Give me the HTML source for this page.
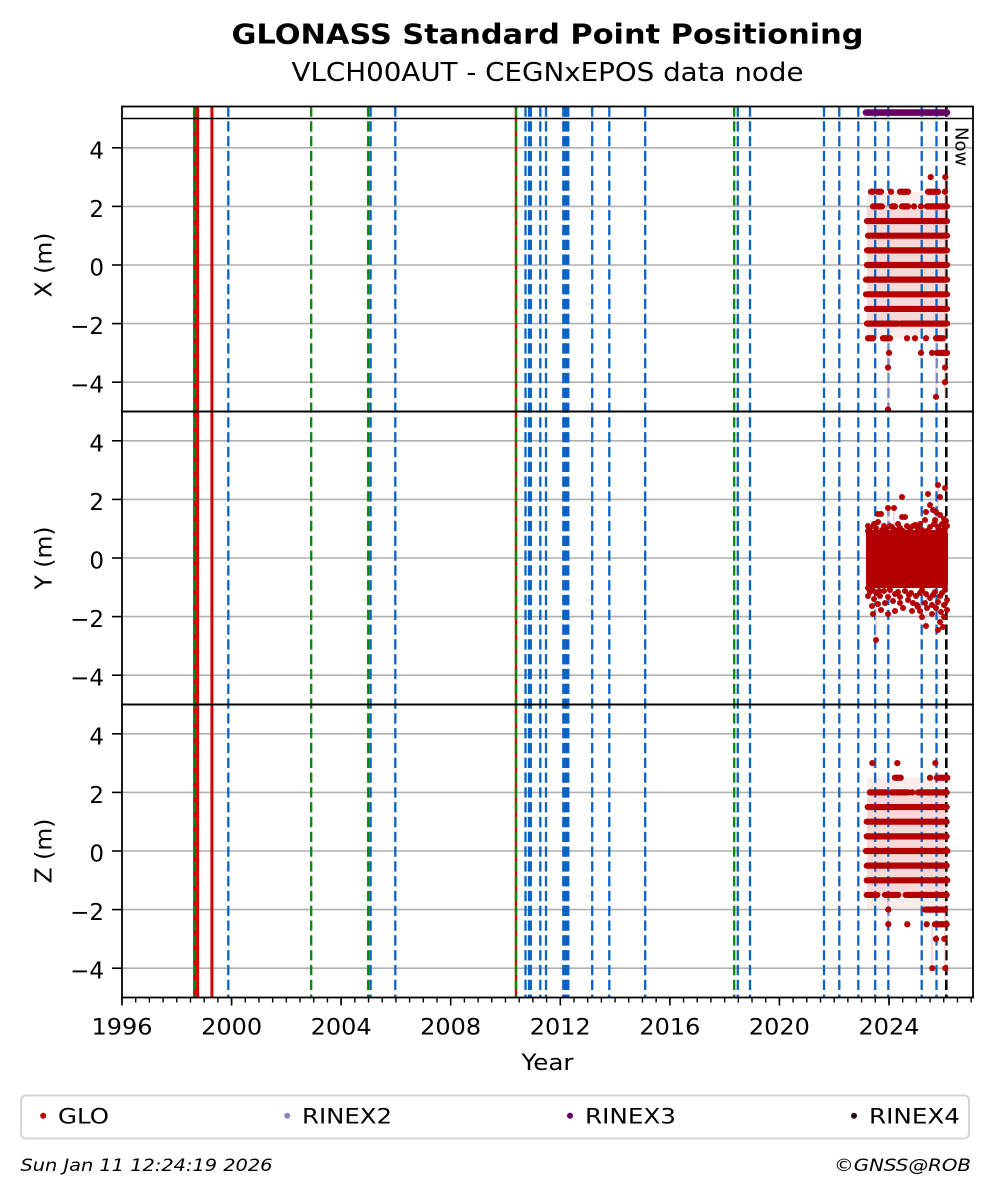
<!DOCTYPE html>
<html>
<head>
<meta charset="utf-8">
<style>
html,body{margin:0;padding:0;background:#fff;}
svg{display:block;}
</style>
</head>
<body>
<svg width="992" height="1194" viewBox="0 0 992 1194" xmlns="http://www.w3.org/2000/svg" font-family="'DejaVu Sans','Liberation Sans',sans-serif">
<rect x="0" y="0" width="992" height="1194" fill="#fff"/>

<!-- Titles -->
<text x="547.5" y="43.3" font-size="27.5" font-weight="bold" text-anchor="middle" textLength="632" lengthAdjust="spacingAndGlyphs">GLONASS Standard Point Positioning</text>
<text x="547.5" y="81" font-size="26" text-anchor="middle" textLength="512" lengthAdjust="spacingAndGlyphs">VLCH00AUT - CEGNxEPOS data node</text>

<!-- pink fills (connecting lines) -->
<rect x="867" y="191.75" width="80" height="146.5" fill="#fbecec"/>
<rect x="867" y="206.4" width="80" height="117.2" fill="#f5d9d9"/>
<rect x="867" y="777.75" width="80" height="132" fill="#fbecec"/>
<rect x="867" y="792.4" width="80" height="102.5" fill="#f5d9d9"/>

<!-- grid -->
<g stroke="#b0b0b0" stroke-width="1.6">
<line x1="122" x2="973" y1="147.8" y2="147.8"/>
<line x1="122" x2="973" y1="206.4" y2="206.4"/>
<line x1="122" x2="973" y1="265" y2="265"/>
<line x1="122" x2="973" y1="323.6" y2="323.6"/>
<line x1="122" x2="973" y1="382.2" y2="382.2"/>
<line x1="122" x2="973" y1="440.8" y2="440.8"/>
<line x1="122" x2="973" y1="499.4" y2="499.4"/>
<line x1="122" x2="973" y1="558" y2="558"/>
<line x1="122" x2="973" y1="616.6" y2="616.6"/>
<line x1="122" x2="973" y1="675.2" y2="675.2"/>
<line x1="122" x2="973" y1="733.8" y2="733.8"/>
<line x1="122" x2="973" y1="792.4" y2="792.4"/>
<line x1="122" x2="973" y1="851" y2="851"/>
<line x1="122" x2="973" y1="909.6" y2="909.6"/>
<line x1="122" x2="973" y1="968.2" y2="968.2"/>
</g>

<!-- red solid event lines -->
<g stroke="#d50000" stroke-width="3">
<line x1="194.6" x2="194.6" y1="106.5" y2="997.5"/>
<line x1="197.6" x2="197.6" y1="106.5" y2="997.5"/>
<line x1="211.9" x2="211.9" y1="106.5" y2="997.5"/>
<line x1="516" x2="516" y1="106.5" y2="997.5" stroke-width="2.4"/>
</g>

<!-- green dashed -->
<g stroke="#0a870a" stroke-width="2.3" stroke-dasharray="10.3 4.5">
<line x1="194.5" x2="194.5" y1="106.5" y2="997.5"/>
<line x1="311.2" x2="311.2" y1="106.5" y2="997.5"/>
<line x1="368.2" x2="368.2" y1="106.5" y2="997.5"/>
<line x1="516" x2="516" y1="106.5" y2="997.5"/>
<line x1="734.2" x2="734.2" y1="106.5" y2="997.5"/>
</g>

<!-- blue dashed -->
<g stroke="#0b63c5" stroke-width="2.3" stroke-dasharray="10.3 4.5">
<line x1="228.3" x2="228.3" y1="106.5" y2="997.5"/>
<line x1="370.6" x2="370.6" y1="106.5" y2="997.5"/>
<line x1="395.3" x2="395.3" y1="106.5" y2="997.5"/>
<line x1="525.5" x2="525.5" y1="106.5" y2="997.5"/>
<line x1="529" x2="529" y1="106.5" y2="997.5"/>
<line x1="530.8" x2="530.8" y1="106.5" y2="997.5"/>
<line x1="540.3" x2="540.3" y1="106.5" y2="997.5"/>
<line x1="546" x2="546" y1="106.5" y2="997.5"/>
<line x1="563.3" x2="563.3" y1="106.5" y2="997.5"/>
<line x1="565" x2="565" y1="106.5" y2="997.5"/>
<line x1="566.7" x2="566.7" y1="106.5" y2="997.5"/>
<line x1="568.3" x2="568.3" y1="106.5" y2="997.5"/>
<line x1="592.2" x2="592.2" y1="106.5" y2="997.5"/>
<line x1="609.3" x2="609.3" y1="106.5" y2="997.5"/>
<line x1="645.2" x2="645.2" y1="106.5" y2="997.5"/>
<line x1="737.8" x2="737.8" y1="106.5" y2="997.5"/>
<line x1="750" x2="750" y1="106.5" y2="997.5"/>
<line x1="824" x2="824" y1="106.5" y2="997.5"/>
<line x1="839.3" x2="839.3" y1="106.5" y2="997.5"/>
<line x1="858.3" x2="858.3" y1="106.5" y2="997.5"/>
<line x1="875.2" x2="875.2" y1="106.5" y2="997.5"/>
<line x1="888.3" x2="888.3" y1="106.5" y2="997.5"/>
<line x1="921.7" x2="921.7" y1="106.5" y2="997.5"/>
<line x1="936.5" x2="936.5" y1="106.5" y2="997.5"/>
</g>

<!-- Now line -->
<line x1="946.3" x2="946.3" y1="106.5" y2="997.5" stroke="#000" stroke-width="2.6" stroke-dasharray="10.3 4.5"/>

<!-- RINEX3 bar -->
<line x1="866" x2="947" y1="112.6" y2="112.6" stroke="#660066" stroke-width="6.6" stroke-linecap="round"/>

<!-- thin connecting lines for outliers -->
<g stroke="#eab5b5" stroke-width="1">
<line x1="945" x2="945" y1="177" y2="400"/>
<line x1="936" x2="936" y1="338" y2="397"/>
<line x1="888" x2="888" y1="338" y2="410"/>
<line x1="945" x2="945" y1="909" y2="968"/>
<line x1="932" x2="932" y1="924" y2="968"/>
<line x1="888" x2="888" y1="895" y2="924"/>
<line x1="888" x2="888" y1="508" y2="532"/>
<line x1="894" x2="894" y1="508" y2="532"/>
<line x1="876" x2="876" y1="587" y2="640"/>
<line x1="926" x2="926" y1="587" y2="626"/>
<line x1="938" x2="938" y1="485" y2="532"/>
</g>

<!-- X data -->
<path fill="none" stroke="#b40000" stroke-width="6.2" stroke-linecap="round" d="
M930.7 177.1h.01 M945.3 177.1h.01
M871 191.75H873 M878 191.75H881 M891 191.75h.01 M900 191.75H908 M928 191.75H938 M945 191.75h.01
M873 206.4H882 M892 206.4H895 M902 206.4H908 M914 206.4h.01 M921 206.4h.01 M927 206.4H947
M867 221.05H947 M868 235.7H947 M867 250.35H947 M867 265H947 M866 279.65H947 M866 294.3H947 M867 308.95H947
M867 323.6H898 M901 323.6H947
M868 338.25H873 M883 338.25H890 M907 338.25h.01 M915 338.25h.01 M926 338.25h.01 M936 338.25H943
M889 352.9h.01 M921 352.9h.01 M932 352.9h.01 M937 352.9H947
M888 367.55h.01 M945 367.55h.01 M945 382.2h.01 M936 396.85h.01 M888 409.5h.01"/>

<!-- Y data -->
<rect x="866" y="530" width="82" height="58" rx="4" fill="#b40000"/>
<path fill="none" stroke="#b40000" stroke-width="6" stroke-linecap="round" d="
M938 485h.01 M945 488h.01 M928 494h.01 M940 497h.01 M902 497h.01 M888 508h.01 M894 508h.01 M878 514h.01 M881 514h.01 M902 517h.01 M905 517h.01
M930 505h.01 M933 510h.01 M936 512h.01 M926 512h.01 M940 515h.01 M944 519h.01 M946 521h.01 M935 520h.01 M925 520h.01 M920 524h.01 M913 526h.01
M907 526h.01 M898 524h.01 M890 526h.01 M884 526h.01 M878 522h.01 M874 524h.01 M870 528h.01 M882 530h.01 M895 530h.01 M910 529h.01 M918 529h.01
M930 527h.01 M938 527h.01 M945 528h.01 M868 531h.01 M903 531h.01 M927 531h.01 M886 529h.01 M922 530h.01 M940 530h.01
M868 526h.01 M876 528h.01 M892 527h.01 M900 528h.01 M915 525h.01 M934 524h.01 M942 524h.01 M947 526h.01
M868 588h.01 M872 590h.01 M876 593h.01 M880 596h.01 M874 599h.01 M884 591h.01 M890 590h.01 M895 594h.01 M888 597h.01 M900 597h.01 M905 591h.01
M911 593h.01 M916 596h.01 M922 590h.01 M926 594h.01 M930 598h.01 M935 592h.01 M940 596h.01 M945 590h.01 M947 600h.01 M944 605h.01 M938 602h.01
M932 605h.01 M925 603h.01 M918 607h.01 M913 603h.01 M908 600h.01 M900 603h.01 M893 601h.01 M885 603h.01 M878 604h.01 M872 606h.01 M912 611h.01
M917 605h.01 M920 611h.01 M932 614h.01 M873 614h.01 M888 614h.01 M895 611h.01 M922 617h.01 M926 626h.01 M938 630h.01 M944 617h.01 M876 640h.01
M940 622h.01 M943 627h.01 M941 612h.01 M936 608h.01 M947 610h.01 M881 610h.01 M868 596h.01 M927 608h.01 M903 608h.01
M870 592h.01 M879 591h.01 M898 592h.01 M909 595h.01 M920 593h.01 M933 595h.01 M942 593h.01"/>

<!-- Z data -->
<path fill="none" stroke="#b40000" stroke-width="6.2" stroke-linecap="round" d="
M872.3 763.1h.01 M897.3 763.1h.01 M935.3 763.1h.01
M895 777.75H900.7 M930 777.75h.01 M936.7 777.75H947.3
M870 792.4H886 M891.7 792.4H908.3 M912.3 792.4h.01 M918 792.4H946.7
M867.7 807.05H946.7 M866.7 821.7H946.7 M866.7 836.35H946.7 M866 851H947.3 M866.7 865.65H946.7 M866.7 880.3H947.3
M866.7 894.95H877.3 M885 894.95H898.3 M905.7 894.95H946.7
M888.3 909.6h.01 M925 909.6H945
M888.3 924.25h.01 M907.3 924.25h.01 M926.7 924.25h.01 M935 924.25H946.7
M936 938.9h.01 M944.3 938.9h.01
M932.3 968.2h.01 M945.3 968.2h.01"/>

<!-- Now label -->
<text x="955.5" y="127" font-size="18" transform="rotate(90 955.5 127)">Now</text>

<!-- spines -->
<g fill="none" stroke="#000" stroke-width="1.8">
<rect x="122" y="106.5" width="851" height="305"/>
<rect x="122" y="411.5" width="851" height="293"/>
<rect x="122" y="704.5" width="851" height="293"/>
<line x1="122" x2="973" y1="118.5" y2="118.5" stroke-width="1.6"/>
</g>

<!-- y ticks -->
<g stroke="#000" stroke-width="1.6">
<line x1="112" x2="122" y1="147.8" y2="147.8"/>
<line x1="112" x2="122" y1="206.4" y2="206.4"/>
<line x1="112" x2="122" y1="265" y2="265"/>
<line x1="112" x2="122" y1="323.6" y2="323.6"/>
<line x1="112" x2="122" y1="382.2" y2="382.2"/>
<line x1="112" x2="122" y1="440.8" y2="440.8"/>
<line x1="112" x2="122" y1="499.4" y2="499.4"/>
<line x1="112" x2="122" y1="558" y2="558"/>
<line x1="112" x2="122" y1="616.6" y2="616.6"/>
<line x1="112" x2="122" y1="675.2" y2="675.2"/>
<line x1="112" x2="122" y1="733.8" y2="733.8"/>
<line x1="112" x2="122" y1="792.4" y2="792.4"/>
<line x1="112" x2="122" y1="851" y2="851"/>
<line x1="112" x2="122" y1="909.6" y2="909.6"/>
<line x1="112" x2="122" y1="968.2" y2="968.2"/>
</g>

<!-- x ticks -->
<line x1="121.3" y1="1000" x2="974" y2="1000" stroke="#000" stroke-width="5" stroke-dasharray="1.4 12.296"/>
<g stroke="#000" stroke-width="1.6">
<line x1="122" x2="122" y1="997.5" y2="1005.5"/>
<line x1="231.6" x2="231.6" y1="997.5" y2="1005.5"/>
<line x1="341.1" x2="341.1" y1="997.5" y2="1005.5"/>
<line x1="450.7" x2="450.7" y1="997.5" y2="1005.5"/>
<line x1="560.3" x2="560.3" y1="997.5" y2="1005.5"/>
<line x1="669.9" x2="669.9" y1="997.5" y2="1005.5"/>
<line x1="779.4" x2="779.4" y1="997.5" y2="1005.5"/>
<line x1="889" x2="889" y1="997.5" y2="1005.5"/>
</g>

<!-- y tick labels -->
<g font-size="23" text-anchor="end" fill="#000">
<text x="104" y="158.3">4</text>
<text x="104" y="216.9">2</text>
<text x="104" y="275.5">0</text>
<text x="104" y="334.1">−2</text>
<text x="104" y="392.7">−4</text>
<text x="104" y="451.3">4</text>
<text x="104" y="509.9">2</text>
<text x="104" y="568.5">0</text>
<text x="104" y="627.1">−2</text>
<text x="104" y="685.7">−4</text>
<text x="104" y="744.3">4</text>
<text x="104" y="802.9">2</text>
<text x="104" y="861.5">0</text>
<text x="104" y="920.1">−2</text>
<text x="104" y="978.7">−4</text>
</g>

<!-- x tick labels -->
<g font-size="22" text-anchor="middle" fill="#000">
<text x="122" y="1034.5" textLength="61" lengthAdjust="spacingAndGlyphs">1996</text>
<text x="231.6" y="1034.5" textLength="61" lengthAdjust="spacingAndGlyphs">2000</text>
<text x="341.1" y="1034.5" textLength="61" lengthAdjust="spacingAndGlyphs">2004</text>
<text x="450.7" y="1034.5" textLength="61" lengthAdjust="spacingAndGlyphs">2008</text>
<text x="560.3" y="1034.5" textLength="61" lengthAdjust="spacingAndGlyphs">2012</text>
<text x="669.9" y="1034.5" textLength="61" lengthAdjust="spacingAndGlyphs">2016</text>
<text x="779.4" y="1034.5" textLength="61" lengthAdjust="spacingAndGlyphs">2020</text>
<text x="889" y="1034.5" textLength="61" lengthAdjust="spacingAndGlyphs">2024</text>
</g>

<!-- axis labels -->
<text x="547.5" y="1070" font-size="22" text-anchor="middle" textLength="52" lengthAdjust="spacingAndGlyphs">Year</text>
<text x="51.5" y="265" font-size="23.5" text-anchor="middle" transform="rotate(-90 51.5 265)">X (m)</text>
<text x="51.5" y="558" font-size="23.5" text-anchor="middle" transform="rotate(-90 51.5 558)">Y (m)</text>
<text x="51.5" y="851" font-size="23.5" text-anchor="middle" transform="rotate(-90 51.5 851)">Z (m)</text>

<!-- legend -->
<rect x="21" y="1095.5" width="948" height="43" rx="5" ry="5" fill="#fff" stroke="#d4d4d4" stroke-width="2"/>
<circle cx="43.2" cy="1115.7" r="3" fill="#c00000"/>
<text x="58" y="1123.3" font-size="21" textLength="51" lengthAdjust="spacingAndGlyphs">GLO</text>
<circle cx="287.3" cy="1115.7" r="3" fill="#8585c4"/>
<text x="302" y="1123.3" font-size="21" textLength="90" lengthAdjust="spacingAndGlyphs">RINEX2</text>
<circle cx="570" cy="1115.7" r="3" fill="#660066"/>
<text x="585" y="1123.3" font-size="21" textLength="91" lengthAdjust="spacingAndGlyphs">RINEX3</text>
<circle cx="854" cy="1115.7" r="3" fill="#1e0a1e"/>
<text x="869" y="1123.3" font-size="21" textLength="91" lengthAdjust="spacingAndGlyphs">RINEX4</text>

<!-- footer -->
<text x="20.5" y="1171" font-size="17" font-style="italic" textLength="252" lengthAdjust="spacingAndGlyphs">Sun Jan 11 12:24:19 2026</text>
<text x="971" y="1171" font-size="17" font-style="italic" text-anchor="end" textLength="137" lengthAdjust="spacingAndGlyphs">©GNSS@ROB</text>
</svg>
</body>
</html>
